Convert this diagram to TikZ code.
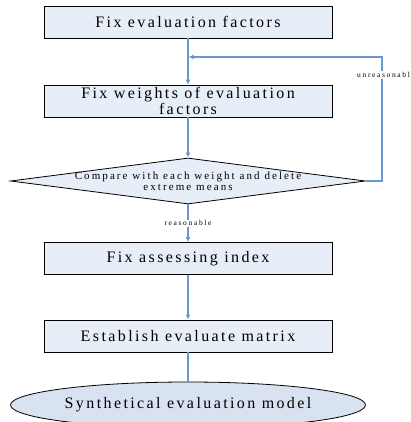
\documentclass[tikz,border=0pt]{standalone}
\usepackage{fontspec}
\setmainfont{Liberation Serif}
\newfontfamily\wideserif[LetterSpace=15]{Liberation Serif}
\newfontfamily\midserif[LetterSpace=19]{Liberation Serif}
\newfontfamily\tagserif[LetterSpace=22]{Liberation Serif}
\usetikzlibrary{shapes.geometric, arrows.meta}

\definecolor{boxfill}{HTML}{E8EEF8}
\definecolor{ovalfill}{HTML}{D9E2F1}
\definecolor{flowline}{HTML}{6A96D4}

\begin{document}
\begin{tikzpicture}[x=1pt, y=-1pt,
	stepbox/.style={draw=black, line width=0.8pt, fill=boxfill, minimum width=288pt, minimum height=32pt,
		inner sep=0pt, align=center, font=\wideserif\fontsize{16}{13.5}\selectfont},
	decision/.style={draw=black, line width=0.8pt, fill=boxfill, diamond, minimum width=355pt, minimum height=46pt, inner sep=0pt},
	result/.style={draw=black, line width=0.8pt, fill=ovalfill, ellipse, minimum width=355pt, minimum height=46pt,
		inner sep=0pt, font=\wideserif\fontsize{16}{16}\selectfont},
	flow/.style={draw=flowline, line width=1.1pt},
	flowarrow/.style={flow, -{Latex[length=5pt, width=5pt]}},
	tag/.style={fill=white, inner sep=1pt, font=\tagserif\fontsize{7.5}{7.5}\selectfont}]
	\useasboundingbox (0,0) rectangle (410,422);
	\begin{scope}
		\clip (0,0) rectangle (410,422);
		% main chain of steps
		\node[stepbox] (factors) at (188,22) {Fix evaluation factors};
		\node[stepbox] (weights) at (188,101) {Fix weights of evaluation\\factors};
		\node[decision, label={[align=center, font=\midserif\fontsize{11}{10.5}\selectfont]center:Compare with each weight and delete\\extreme means}] (compare) at (188,181) {};
		\node[stepbox] (index) at (188,258.5) {Fix assessing index};
		\node[stepbox] (matrix) at (188,336) {Establish evaluate matrix};
		\node[result] (model) at (188,405) {Synthetical evaluation model};
		% connectors
		\draw[flowarrow] (factors) -- (weights);
		\draw[flowarrow] (weights) -- (compare);
		\draw[flowarrow] (compare) -- node[tag] (ok) {reasonable} (index);
		\draw[flowarrow] (index) -- (matrix);
		\draw[flow] (matrix) -- (model);
		% loop back when the weights are not reasonable
		\coordinate (turn) at (382,181);
		\coordinate (top) at (382,57);
		\coordinate (merge) at (188.6,57);
		\draw[flowarrow] (compare.east) -- (turn) -- (top) -- (merge);
		\node[tag, anchor=west] (bad) at (356,75) {unreasonabl};
	\end{scope}
\end{tikzpicture}
\end{document}
